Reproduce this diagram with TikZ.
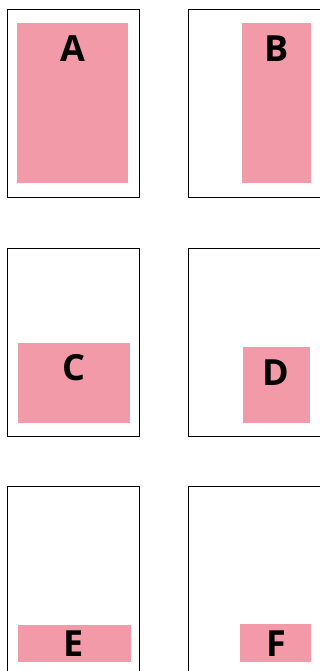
\documentclass[tikz,border=0pt]{standalone}
\usepackage{fontspec}
\setmainfont{Open Sans}
\definecolor{pinkfill}{HTML}{F39AA8}
\begin{document}
\begin{tikzpicture}[x=1pt,y=-1pt,
  frame/.style={draw=black,line width=1pt},
  block/.style={fill=pinkfill},
  letter/.style={anchor=base,inner sep=0pt,font=\fontsize{36}{40}\selectfont\bfseries}]
\useasboundingbox[fill=white] (0,0) rectangle (320,671);
% frames
\draw[frame] (7,9.5) rectangle (139.5,197);
\draw[frame] (188.5,9.5) rectangle (330,197);
\draw[frame] (7,248) rectangle (139.5,436);
\draw[frame] (188.5,248) rectangle (330,436);
\draw[frame] (7,486.5) rectangle (139.5,690);
\draw[frame] (188.5,486.5) rectangle (330,690);
% pink blocks
\fill[block] (17,23) rectangle (128,182.7);
\fill[block] (242,23) rectangle (311,182.7);
\fill[block] (18,343) rectangle (130,422.7);
\fill[block] (243,347) rectangle (310,422.7);
\fill[block] (18,625) rectangle (131,661.7);
\fill[block] (240,624) rectangle (311,661.7);
% letters
\node[letter] (a) at (72.7,61.7) {A};
\node[letter] (b) at (276.7,61.7) {B};
\node[letter] (c) at (74,380.2) {C};
\node[letter] (d) at (276.3,385.7) {D};
\node[letter] (e) at (74,656.7) {E};
\node[letter] (f) at (276.3,656.7) {F};
\end{tikzpicture}
\end{document}
